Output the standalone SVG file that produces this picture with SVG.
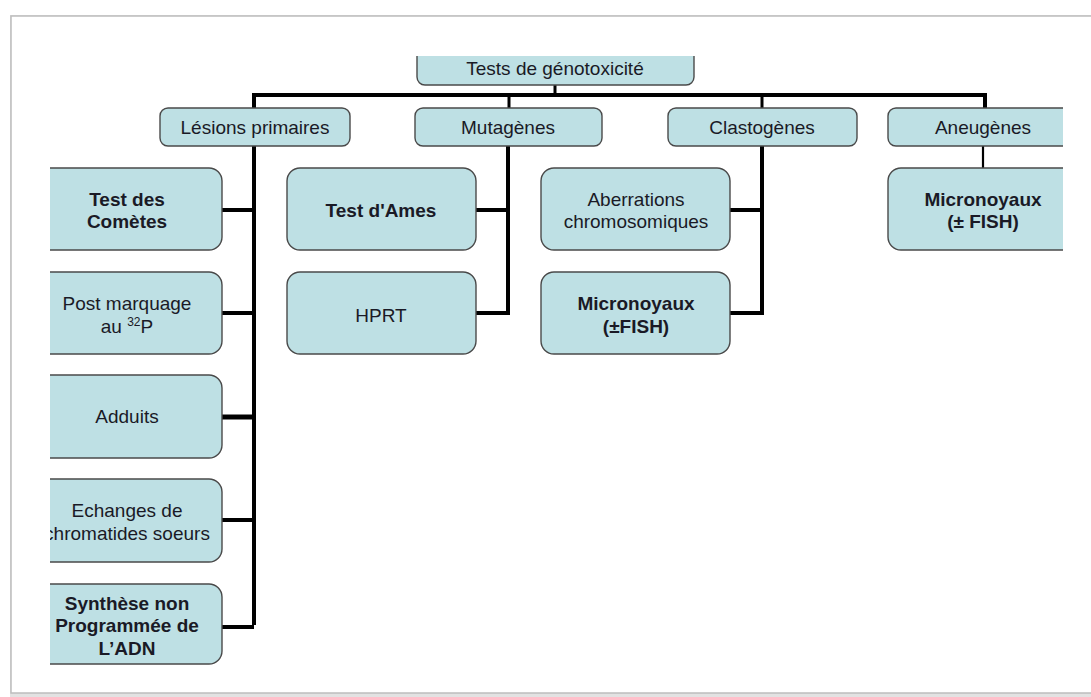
<svg xmlns="http://www.w3.org/2000/svg" width="1091" height="697" viewBox="0 0 1091 697">
  <style>
    .box { fill: #bee0e4; stroke: #4a4a4a; stroke-width: 1.4; }
    .t { font-family: "Liberation Sans", Arial, sans-serif; font-size: 19px; fill: #1a1a26; text-anchor: middle; }
    .b { font-weight: bold; }
    .ln { fill: none; stroke: #000; stroke-width: 4; stroke-linejoin: miter; stroke-linecap: butt; }
    .stub { fill: none; stroke: #000; stroke-width: 3; }
    .thin { fill: none; stroke: #000; stroke-width: 2.2; }
  </style>
  <defs>
    <clipPath id="clipL"><rect x="50" y="0" width="1041" height="697"/></clipPath>
    <clipPath id="clipT"><rect x="0" y="56" width="1091" height="641"/></clipPath>
    <clipPath id="clipR"><rect x="0" y="0" width="1063" height="697"/></clipPath>
  </defs>
  <rect x="0" y="0" width="1091" height="697" fill="#ffffff"/>
  <!-- page frame with shadow -->
  <rect x="12" y="17" width="1100" height="678" fill="none" stroke="#e2e2e2" stroke-width="4"/>
  <rect x="11" y="16" width="1100" height="677" fill="#ffffff" stroke="#bdbdbd" stroke-width="1.5"/>

  <g id="connectors">
    <line class="stub" x1="555" y1="85" x2="555" y2="95"/>
    <polyline class="ln" points="254,108 254,95 985,95 985,108"/>
    <line class="stub" x1="509" y1="95" x2="509" y2="108"/>
    <line class="stub" x1="762" y1="95" x2="762" y2="108"/>
    <line class="ln" x1="254" y1="146" x2="254" y2="625"/>
    <polyline class="ln" points="222,627 254,627"/>
    <line class="ln" x1="222" y1="210" x2="254" y2="210"/>
    <line class="ln" x1="222" y1="313" x2="254" y2="313"/>
    <line class="ln" x1="222" y1="417" x2="254" y2="417" style="stroke-width:5"/>
    <line class="ln" x1="222" y1="520" x2="254" y2="520"/>
    <polyline class="ln" points="508,146 508,313 476,313"/>
    <line class="ln" x1="476" y1="210" x2="508" y2="210"/>
    <polyline class="ln" points="762,146 762,313 730,313"/>
    <line class="ln" x1="730" y1="210" x2="762" y2="210"/>
    <line class="thin" x1="983" y1="146" x2="983" y2="168"/>
  </g>

  <g id="n-root" clip-path="url(#clipT)">
    <rect class="box" x="417" y="45" width="277" height="40" rx="8"/>
    <text class="t" x="555" y="75">Tests de génotoxicité</text>
  </g>

  <g id="n-lesions">
    <rect class="box" x="160" y="108" width="190" height="38" rx="8"/>
    <text class="t" x="255" y="134">Lésions primaires</text>
  </g>
  <g id="n-mutagenes">
    <rect class="box" x="415" y="108" width="187" height="38" rx="8"/>
    <text class="t" x="508" y="134">Mutagènes</text>
  </g>
  <g id="n-clastogenes">
    <rect class="box" x="668" y="108" width="189" height="38" rx="8"/>
    <text class="t" x="762" y="134">Clastogènes</text>
  </g>
  <g id="n-aneugenes" clip-path="url(#clipR)">
    <rect class="box" x="888" y="108" width="190" height="38" rx="8"/>
    <text class="t" x="983" y="134">Aneugènes</text>
  </g>

  <g id="n-cometes" clip-path="url(#clipL)">
    <rect class="box" x="30" y="168" width="192" height="82" rx="13"/>
    <text class="t b" x="127" y="206">Test des</text>
    <text class="t b" x="127" y="228">Comètes</text>
  </g>
  <g id="n-postmarquage" clip-path="url(#clipL)">
    <rect class="box" x="30" y="272" width="192" height="82" rx="13"/>
    <text class="t" x="127" y="310">Post marquage</text>
    <text class="t" x="127" y="333">au <tspan font-size="12" dy="-7">32</tspan><tspan dy="7">P</tspan></text>
  </g>
  <g id="n-adduits" clip-path="url(#clipL)">
    <rect class="box" x="30" y="375" width="192" height="83" rx="13"/>
    <text class="t" x="127" y="423">Adduits</text>
  </g>
  <g id="n-echanges" clip-path="url(#clipL)">
    <rect class="box" x="30" y="479" width="192" height="83" rx="13"/>
    <text class="t" x="127" y="517">Echanges de</text>
    <text class="t" x="127" y="540">chromatides soeurs</text>
  </g>
  <g id="n-synthese" clip-path="url(#clipL)">
    <rect class="box" x="30" y="584" width="192" height="80" rx="13"/>
    <text class="t b" x="127" y="610">Synthèse non</text>
    <text class="t b" x="127" y="632">Programmée de</text>
    <text class="t b" x="127" y="655">L’ADN</text>
  </g>

  <g id="n-ames">
    <rect class="box" x="287" y="168" width="189" height="82" rx="13"/>
    <text class="t b" x="381" y="217">Test d'Ames</text>
  </g>
  <g id="n-hprt">
    <rect class="box" x="287" y="272" width="189" height="82" rx="13"/>
    <text class="t" x="381" y="322">HPRT</text>
  </g>
  <g id="n-aberrations">
    <rect class="box" x="541" y="168" width="189" height="82" rx="13"/>
    <text class="t" x="636" y="206">Aberrations</text>
    <text class="t" x="636" y="228">chromosomiques</text>
  </g>
  <g id="n-micronoyaux-c">
    <rect class="box" x="541" y="272" width="189" height="82" rx="13"/>
    <text class="t b" x="636" y="310">Micronoyaux</text>
    <text class="t b" x="636" y="333">(±FISH)</text>
  </g>
  <g id="n-micronoyaux-a" clip-path="url(#clipR)">
    <rect class="box" x="888" y="168" width="190" height="82" rx="13"/>
    <text class="t b" x="983" y="206">Micronoyaux</text>
    <text class="t b" x="983" y="228">(± FISH)</text>
  </g>
</svg>
